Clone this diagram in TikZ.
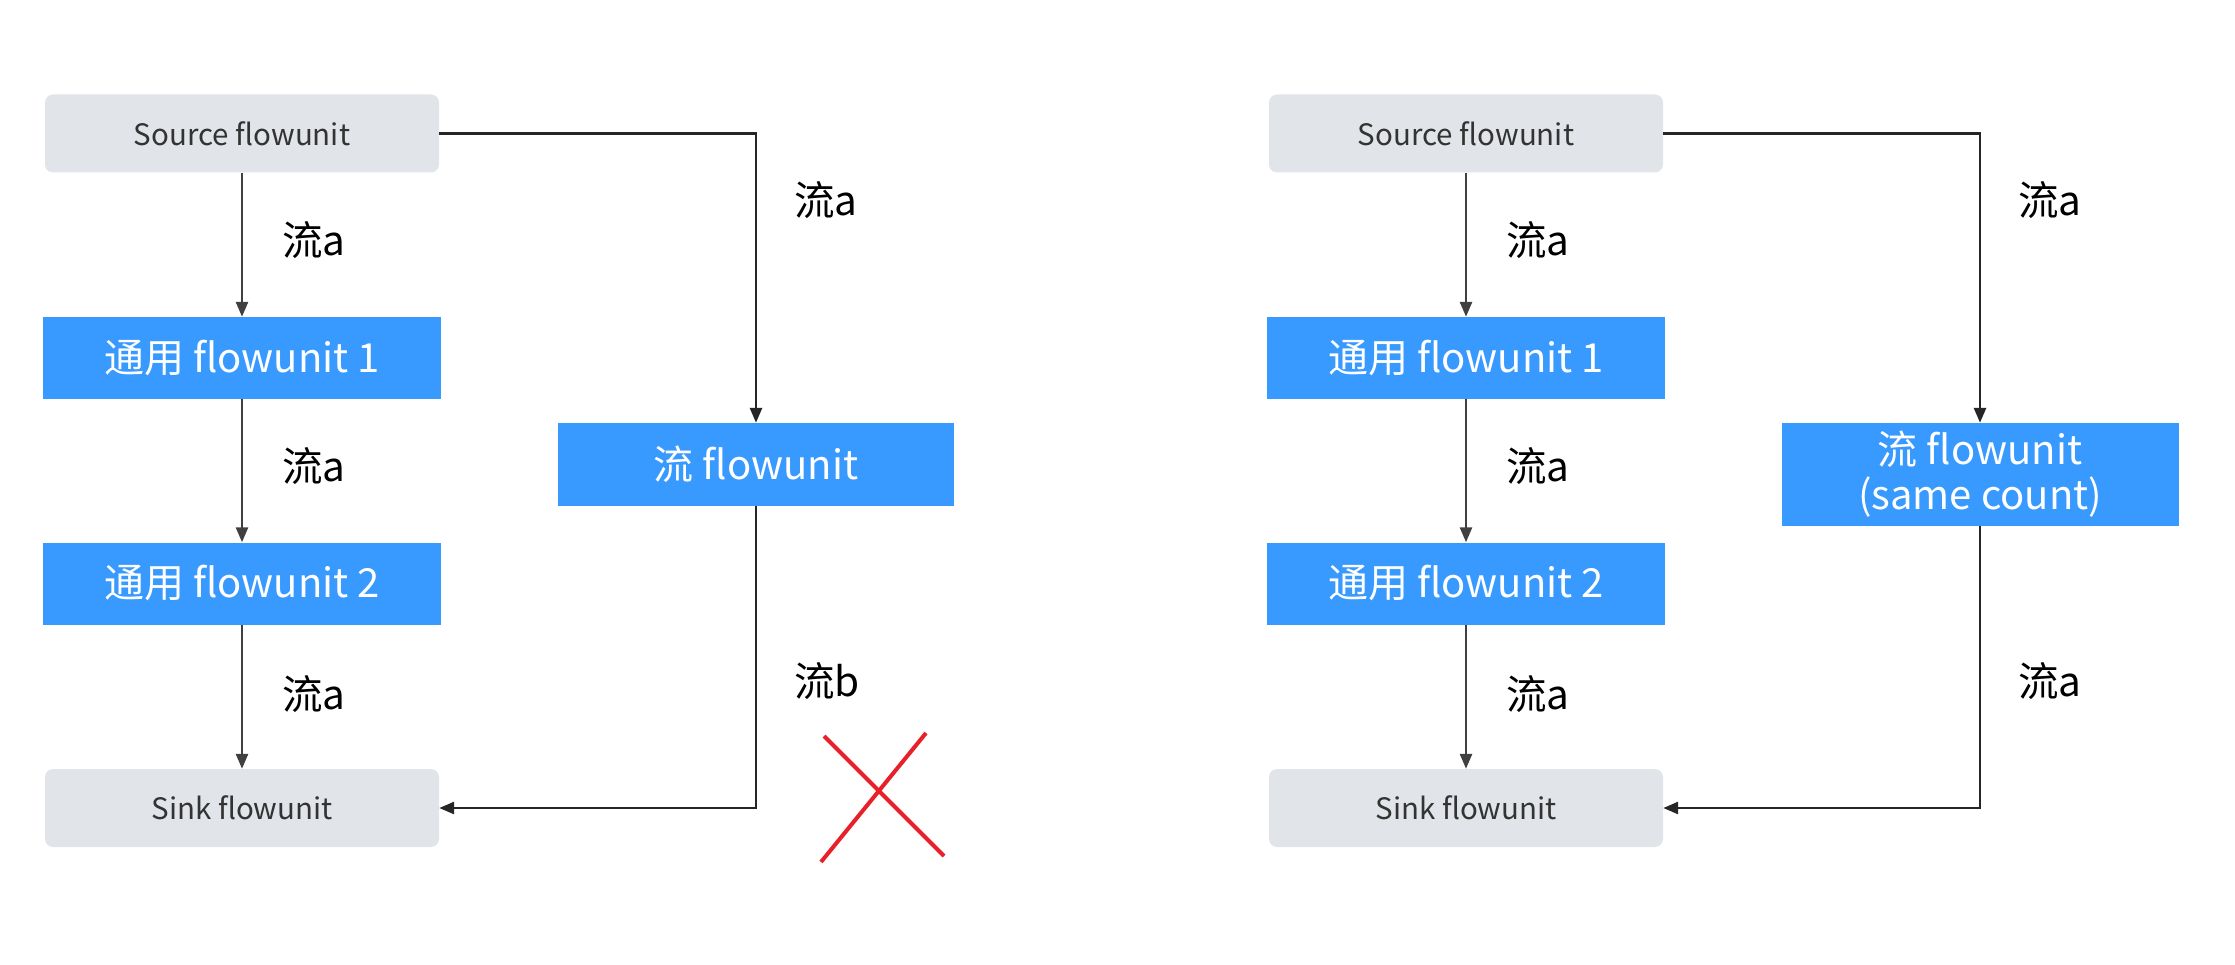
\documentclass[tikz,border=0pt]{standalone}
\usepackage{fontspec}
\setmainfont{Noto Sans CJK SC}
\usetikzlibrary{arrows.meta}
\definecolor{boxgray}{HTML}{E1E4E8}
\definecolor{boxblue}{HTML}{3899FF}
\definecolor{txtgray}{HTML}{333333}
\definecolor{linegray}{HTML}{404040}
\definecolor{linedark}{HTML}{262626}
\definecolor{xred}{HTML}{E8202A}
\begin{document}
\begin{tikzpicture}[x=1pt,y=-1pt,
 graybox/.style={fill=boxgray, rounded corners=8pt, minimum width=394pt, minimum height=78pt, inner sep=0pt, text=txtgray, font=\fontsize{29.5}{36}\selectfont},
 bluebox/.style={fill=boxblue, minimum width=398pt, minimum height=82pt, inner sep=0pt, text=white, font=\fontsize{40}{45}\selectfont, align=center},
 flow/.style={line width=2.7pt, draw=linegray, -{Triangle[length=15pt,width=12pt]}},
 flowdark/.style={line width=2.7pt, draw=linedark, -{Triangle[length=15pt,width=12pt]}},
 lbl/.style={anchor=west, inner sep=0pt, font=\fontsize{40.5}{46}\selectfont},
 cross/.style={draw=xred, line width=4pt}
]
\useasboundingbox (0,0) rectangle (2235,965);

% ---------- left diagram ----------
\node[graybox] (src) at (242,133.5) {Source flowunit};
\node[bluebox] (g1) at (242,358) {通用 flowunit 1};
\node[bluebox] (g2) at (242,583.5) {通用 flowunit 2};
\node[graybox] (sink) at (242,808) {Sink flowunit};
\node[bluebox, minimum width=396pt, minimum height=83pt] (fu) at (756,464.5) {流 flowunit};

\draw[flow] (src) -- (g1);
\draw[flow] (g1) -- (g2);
\draw[flow] (g2) -- (sink);
\draw[flowdark] (src.east) -| (fu.north);
\draw[flowdark] (fu.south) |- (sink.east);

\node[lbl] (la1) at (282,240) {流a};
\node[lbl] (la2) at (282,466) {流a};
\node[lbl] (la3) at (282,694) {流a};
\node[lbl] (la4) at (794,200) {流a};
\node[lbl] (lb1) at (794,681) {流b};

\draw[cross] (824,736) -- (944,856);
\draw[cross] (926,733) -- (821,862);

% ---------- right diagram ----------
\node[graybox] (src2) at (1466,133.5) {Source flowunit};
\node[bluebox] (h1) at (1466,358) {通用 flowunit 1};
\node[bluebox] (h2) at (1466,583.5) {通用 flowunit 2};
\node[graybox] (sink2) at (1466,808) {Sink flowunit};
\node[bluebox, minimum width=397pt, minimum height=103pt] (fu2) at (1980,474.5) {流 flowunit\\(same count)};

\draw[flow] (src2) -- (h1);
\draw[flow] (h1) -- (h2);
\draw[flow] (h2) -- (sink2);
\draw[flowdark] (src2.east) -| (fu2.north);
\draw[flowdark] (fu2.south) |- (sink2.east);

\node[lbl] (ra1) at (1506,240) {流a};
\node[lbl] (ra2) at (1506,466) {流a};
\node[lbl] (ra3) at (1506,694) {流a};
\node[lbl] (ra4) at (2018,200) {流a};
\node[lbl] (ra5) at (2018,681) {流a};
\end{tikzpicture}
\end{document}
